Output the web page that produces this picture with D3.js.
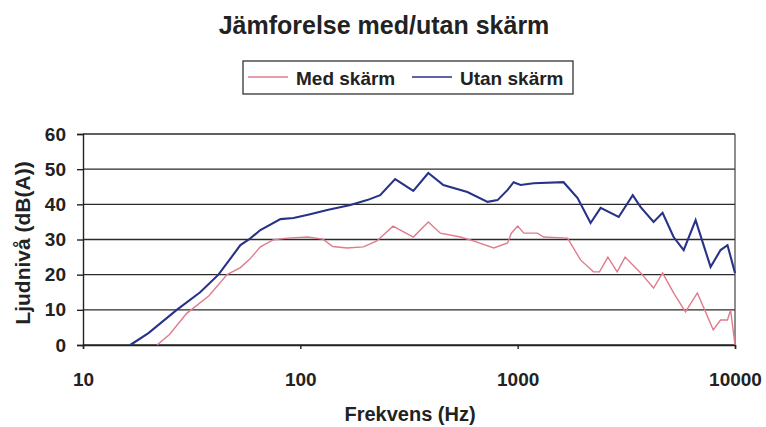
<!DOCTYPE html>
<html>
<head>
<meta charset="utf-8">
<script src="https://cdn.jsdelivr.net/npm/d3@7/dist/d3.min.js"></script>
<style>
  body { margin: 0; background: white; }
  text { font-family: "Liberation Sans", Arial, sans-serif; }
</style>
</head>
<body>
<script>

var width = 766,
    height = 427;

// data
var utanFreq  = [16.5, 20, 27, 34.6, 42, 53, 58, 65.5, 81, 93, 111, 133, 170, 203, 233, 273, 331, 388, 455, 587, 727, 808, 899, 958, 1031, 1184, 1626, 1887, 2165, 2408, 2917, 3384, 3681, 4221, 4642, 5218, 5806, 6589, 7720, 8583, 9236, 10000];
var utanLevel = [0, 3.4, 10, 15, 20, 28.4, 30, 32.7, 35.8, 36.1, 37.2, 38.4, 39.8, 41.2, 42.6, 47.2, 43.8, 48.9, 45.5, 43.5, 40.7, 41.2, 44.1, 46.3, 45.5, 46, 46.3, 41.8, 34.7, 39, 36.4, 42.6, 39.2, 35, 37.6, 30.7, 27, 35.5, 22.2, 27, 28.4, 20.5];

var medFreq  = [21.9, 25, 30, 38, 46, 53, 58.7, 65.5, 75, 87, 108, 127, 141, 164, 195, 225, 267, 331, 388, 441, 545, 625, 776, 899, 935, 1000, 1068, 1233, 1316, 1697, 1946, 2232, 2380, 2600, 2870, 3121, 3681, 4221, 4642, 5218, 5914, 6712, 7941, 8583, 9236, 9541, 10000];
var medLevel = [0, 3, 9, 14, 20, 22, 24.5, 27.9, 29.9, 30.4, 30.7, 30.1, 28, 27.6, 27.9, 29.6, 33.8, 30.7, 35, 31.8, 30.7, 29.6, 27.6, 29, 31.8, 33.8, 31.8, 31.8, 30.7, 30.4, 24.2, 20.8, 20.8, 25, 20.8, 25, 20.5, 16.2, 20.5, 14.8, 9.4, 14.8, 4.3, 7.1, 7.1, 10, 0];

var xTicks = [10, 100, 1000, 10000];
var yTicks = [0, 10, 20, 30, 40, 50, 60];

var svg = d3.select("body")
            .append("svg")
            .attr("width", width)
            .attr("height", height)
            .style("background", "white");

var x = d3.scaleLog().domain([10, 10000]).range([83, 735]);
var y = d3.scaleLinear().domain([0, 60]).range([345, 134]);

// gridlines
svg.append("g")
   .selectAll("line")
   .data(yTicks)
   .enter()
   .append("line")
   .attr("x1", x(10))
   .attr("x2", x(10000))
   .attr("y1", function (d) { return y(d); })
   .attr("y2", function (d) { return y(d); })
   .style("stroke", "#2a2a2a")
   .style("stroke-width", 1.4);

// right border
svg.append("line")
   .attr("x1", x(10000)).attr("x2", x(10000))
   .attr("y1", y(60)).attr("y2", y(0))
   .style("stroke", "#444")
   .style("stroke-width", 1.2);

var yAxis = svg.append("g")
               .attr("transform", "translate(" + x(10) + ",0)")
               .call(d3.axisLeft(y).tickValues(yTicks).tickSize(6).tickPadding(11));

var xAxis = svg.append("g")
               .attr("transform", "translate(0," + y(0) + ")")
               .call(d3.axisBottom(x).tickValues(xTicks).tickSize(4).tickFormat(d3.format("d")).tickPadding(24));

[yAxis, xAxis].forEach(function (g) {
  g.select(".domain").style("stroke", "#222").style("stroke-width", 1.4);
  g.selectAll(".tick line").style("stroke", "#222").style("stroke-width", 1.4);
  g.selectAll(".tick text")
   .style("font-family", "'Liberation Sans', Arial, sans-serif")
   .style("font-size", "19px")
   .style("font-weight", "bold")
   .style("fill", "#222");
});

var line = d3.line()
             .x(function (d) { return x(d[0]); })
             .y(function (d) { return y(d[1]); });

svg.append("path")
   .datum(d3.zip(medFreq, medLevel))
   .attr("d", line)
   .style("fill", "none")
   .style("stroke", "#e07b8c")
   .style("stroke-width", 1.4);

svg.append("path")
   .datum(d3.zip(utanFreq, utanLevel))
   .attr("d", line)
   .style("fill", "none")
   .style("stroke", "#283288")
   .style("stroke-width", 2.1);

// title
svg.append("text")
   .attr("x", 384)
   .attr("y", 34)
   .attr("text-anchor", "middle")
   .style("font-size", "25px")
   .style("font-weight", "bold")
   .style("fill", "#222")
   .text("Jämforelse med/utan skärm");

// legend
var legend = svg.append("g");
legend.append("rect")
      .attr("x", 243).attr("y", 61)
      .attr("width", 330).attr("height", 33)
      .style("fill", "white")
      .style("stroke", "#333")
      .style("stroke-width", 1.3);

var legendItems = [["Med skärm", "#e07b8c", 248], ["Utan skärm", "#283288", 412]];
legendItems.forEach(function (d) {
  legend.append("line")
        .attr("x1", d[2]).attr("x2", d[2] + 40)
        .attr("y1", 77).attr("y2", 77)
        .style("stroke", d[1])
        .style("stroke-width", 1.4);
  legend.append("text")
        .attr("x", d[2] + 48)
        .attr("y", 85)
        .style("font-size", "19px")
        .style("font-weight", "bold")
        .style("fill", "#222")
        .text(d[0]);
});

// axis titles
svg.append("text")
   .attr("transform", "translate(30,243) rotate(-90)")
   .attr("text-anchor", "middle")
   .style("font-size", "21px")
   .style("font-weight", "bold")
   .style("fill", "#222")
   .text("Ljudnivå (dB(A))");

svg.append("text")
   .attr("x", 410)
   .attr("y", 421)
   .attr("text-anchor", "middle")
   .style("font-size", "20px")
   .style("font-weight", "bold")
   .style("fill", "#222")
   .text("Frekvens (Hz)");

</script>
</body>
</html>
